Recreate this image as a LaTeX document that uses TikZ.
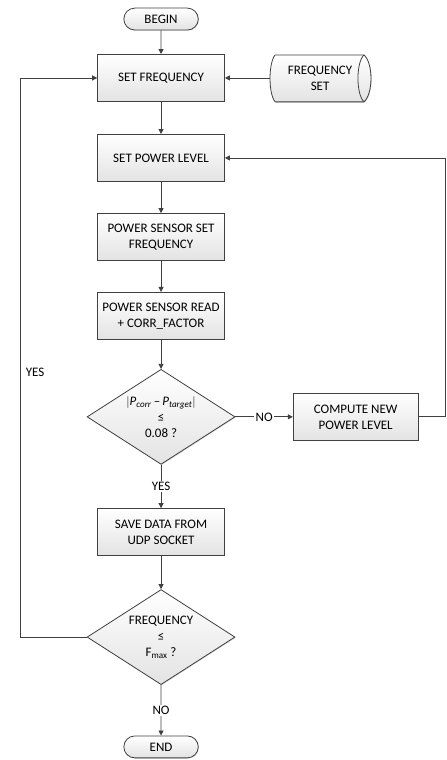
\documentclass[tikz,border=0pt]{standalone}
\usepackage{fontspec}
\setmainfont{Carlito}
\usepackage{tikz}
\usetikzlibrary{arrows.meta, shapes.geometric, shapes.misc, shadows}

\begin{document}
\begin{tikzpicture}[
  line/.style={draw=black!75, line width=0.8pt},
  flow/.style={line, -{Triangle[length=5pt, width=5pt]}},
  shade/.style={top color=white, bottom color=black!11,
    drop shadow={shadow xshift=0.7pt, shadow yshift=-0.7pt, opacity=0.35}},
  stepbox/.style={line, shade, rectangle, minimum width=4.46cm, minimum height=1.65cm,
    align=center},
  term/.style={line, shade, rounded rectangle, minimum width=2.92cm, minimum height=0.77cm},
  test/.style={line, shade, diamond, aspect=1.56, minimum width=5.2cm, minimum height=3.34cm,
    inner sep=0pt, align=center},
  tag/.style={fill=white, inner sep=1.5pt}
]
\fontsize{13}{16}\selectfont
\useasboundingbox (0,0) rectangle (15.68,26.71);

%the main column
\node [term] (begin) at (5.66,26.04) {BEGIN};
\node [stepbox] (setfreq) at (5.66,23.97) {SET FREQUENCY};
\node [stepbox] (setpow) at (5.66,21.16) {SET POWER LEVEL};
\node [stepbox] (psfreq) at (5.66,18.38) {POWER SENSOR SET\\FREQUENCY};
\node [stepbox] (psread) at (5.66,15.61) {POWER SENSOR READ\\+ CORR\_FACTOR};
\node [test] (check) at (5.66,12.06)
  {$\bigl|$\textit{P}\textsubscript{\textit{corr}}\,–\,\textit{P}\textsubscript{\textit{target}}$\bigr|$\\≤\\0.08 ?};
\node [stepbox] (save) at (5.66,8.01) {SAVE DATA FROM\\UDP SOCKET};
\node [test] (fcheck) at (5.66,4.32) {FREQUENCY\\≤\\F\textsubscript{max} ?};
\node [term] (end) at (5.66,0.46) {END};

%the side boxes
\node [stepbox, minimum width=4.39cm] (compute) at (12.50,12.06) {COMPUTE NEW\\POWER LEVEL};
\draw [line, shade] (9.67,24.78) -- (12.79,24.78)
  .. controls (13.12,24.5) and (13.12,23.41) .. (12.79,23.13) -- (9.67,23.13)
  .. controls (9.43,23.41) and (9.43,24.5) .. (9.67,24.78) -- cycle;
\draw [line] (12.79,24.78) .. controls (12.51,24.5) and (12.51,23.41) .. (12.79,23.13);
\node [align=center] (fset) at (11.25,23.97) {FREQUENCY\\SET};
\coordinate (fsetw) at (9.49,23.97);

%the connectors
\draw [flow] (begin) -- (setfreq);
\draw [flow] (fsetw) -- (setfreq.east);
\draw [flow] (setfreq) -- (setpow);
\draw [flow] (setpow) -- (psfreq);
\draw [flow] (psfreq) -- (psread);
\draw [flow] (psread) -- (check);
\draw [flow] (check.east) -- node [tag] {NO} (compute.west);
\draw [flow] (compute.east) -- (15.64,12.06) |- (setpow.east);
\draw [flow] (check.south) -- node [tag] {YES} (save);
\draw [flow] (save) -- (fcheck);
\draw [flow] (fcheck.south) -- node [tag] {NO} (end);
\coordinate (loop) at (0.70,4.32);
\draw [flow] (fcheck.west) -- (loop) |- (setfreq.west);
\node [anchor=west] (yes) at (0.75,13.64) {YES};
\end{tikzpicture}
\end{document}
